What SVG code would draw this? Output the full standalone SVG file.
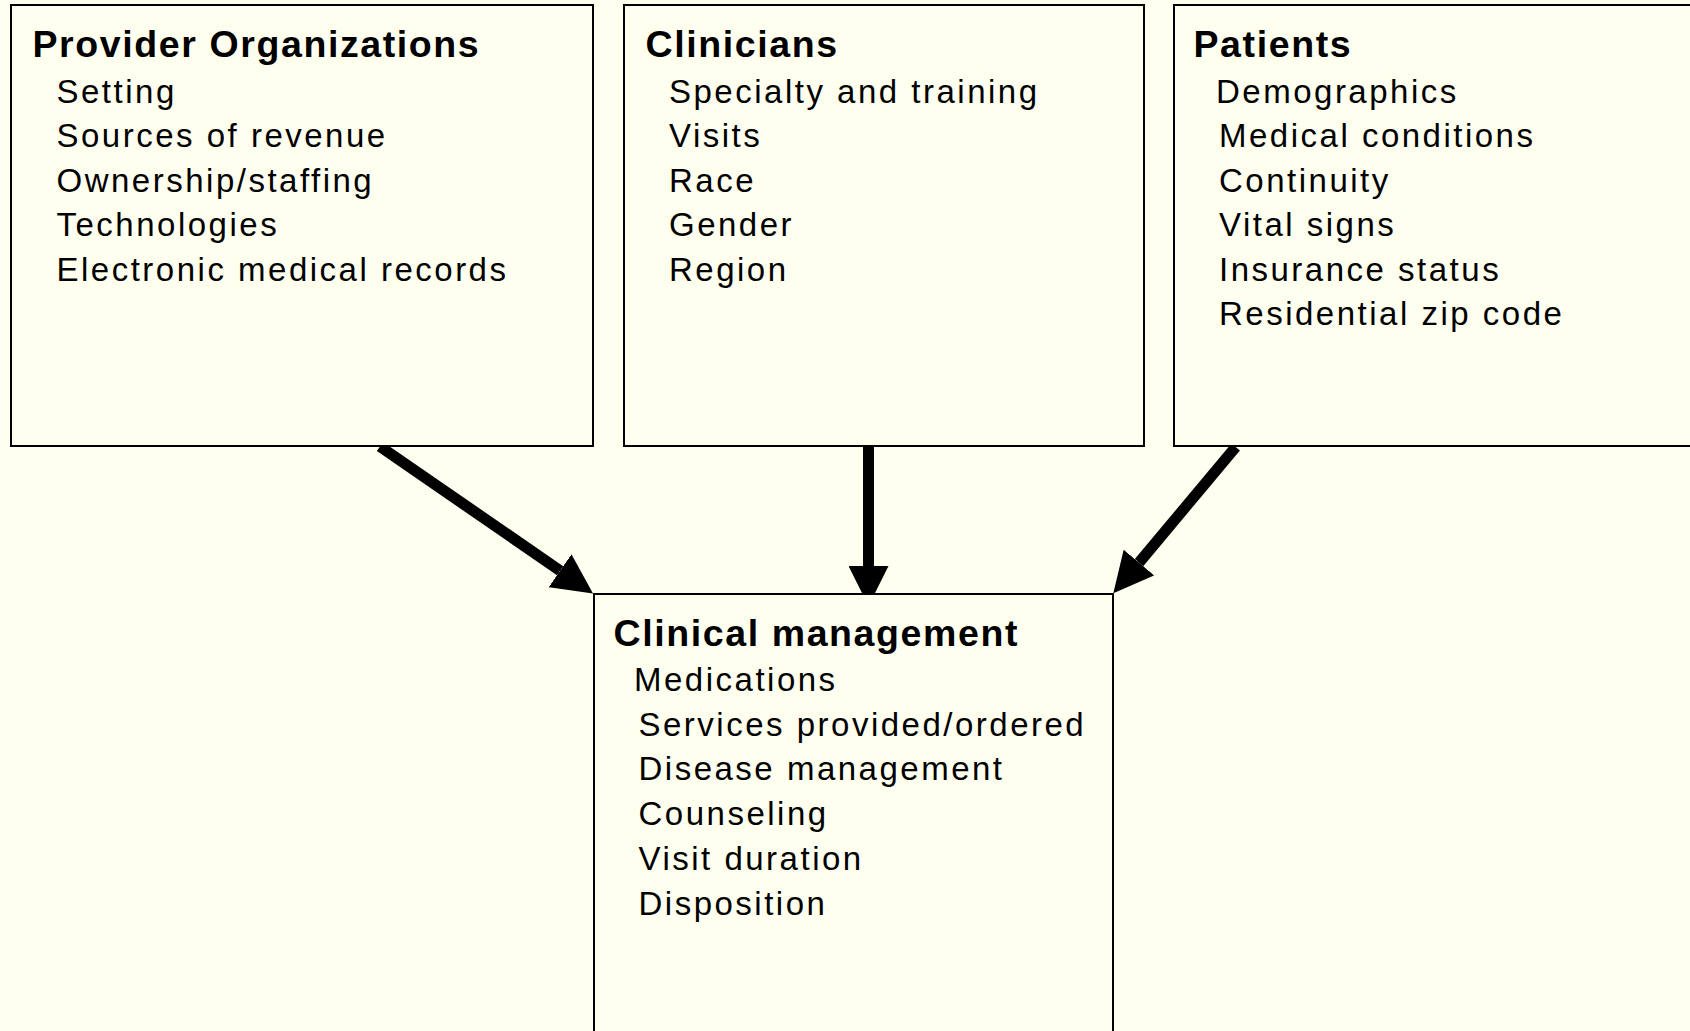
<svg xmlns="http://www.w3.org/2000/svg" width="1690" height="1031" viewBox="0 0 1690 1031">
<defs>
<style>
.bg{fill:#FFFFF0}
.box{fill:#FFFFF0;stroke:#000;stroke-width:2}
.t{font-family:"Liberation Sans",Arial,sans-serif;font-weight:bold;font-size:37.5px;letter-spacing:1.6px;fill:#000}
.i{font-family:"Liberation Sans",Arial,sans-serif;font-size:33px;letter-spacing:2.5px;fill:#000}
.arr{fill:none;stroke:#000;stroke-width:11;stroke-linecap:butt}
</style>
<marker id="head" markerUnits="userSpaceOnUse" viewBox="0 0 40 40" markerWidth="40" markerHeight="40" refX="0" refY="20" orient="auto">
<path d="M0,0 L40,20 L0,40 z" fill="#000"/>
</marker>
</defs>
<rect class="bg" x="0" y="0" width="1690" height="1031"/>

<g id="connectors">
<path class="arr" d="M380,446.5 L560.1,570.7" marker-end="url(#head)"/>
<path class="arr" d="M868.5,446 L868.5,566" marker-end="url(#head)"/>
<path class="arr" d="M1235.7,447 L1139,562.6" marker-end="url(#head)"/>
</g>

<g id="provider-organizations">
<rect class="box" x="11" y="5" width="582" height="441"/>
<text class="t" x="32.5" y="57">Provider Organizations</text>
<text class="i" x="56.5" y="102.5">Setting</text>
<text class="i" x="56.5" y="147">Sources of revenue</text>
<text class="i" x="56.5" y="191.5">Ownership/staffing</text>
<text class="i" x="56.5" y="236">Technologies</text>
<text class="i" x="56.5" y="280.5">Electronic medical records</text>
</g>

<g id="clinicians">
<rect class="box" x="624" y="5" width="520" height="441"/>
<text class="t" x="645.5" y="57">Clinicians</text>
<text class="i" x="669" y="102.5">Specialty and training</text>
<text class="i" x="669" y="147">Visits</text>
<text class="i" x="669" y="191.5">Race</text>
<text class="i" x="669" y="236">Gender</text>
<text class="i" x="669" y="280.5">Region</text>
</g>

<g id="patients">
<rect class="box" x="1174" y="5" width="600" height="441"/>
<text class="t" x="1193.5" y="57">Patients</text>
<text class="i" x="1216" y="102.5">Demographics</text>
<text class="i" x="1219" y="147">Medical conditions</text>
<text class="i" x="1219" y="191.5">Continuity</text>
<text class="i" x="1219" y="236">Vital signs</text>
<text class="i" x="1219" y="280.5">Insurance status</text>
<text class="i" x="1219" y="325">Residential zip code</text>
</g>

<g id="clinical-management">
<rect class="box" x="594" y="594" width="519" height="500"/>
<text class="t" x="613.5" y="646">Clinical management</text>
<text class="i" x="634" y="691">Medications</text>
<text class="i" x="638.5" y="735.7">Services provided/ordered</text>
<text class="i" x="638.5" y="780.4">Disease management</text>
<text class="i" x="638.5" y="825">Counseling</text>
<text class="i" x="638.5" y="869.8">Visit duration</text>
<text class="i" x="638.5" y="914.5">Disposition</text>
</g>
</svg>
